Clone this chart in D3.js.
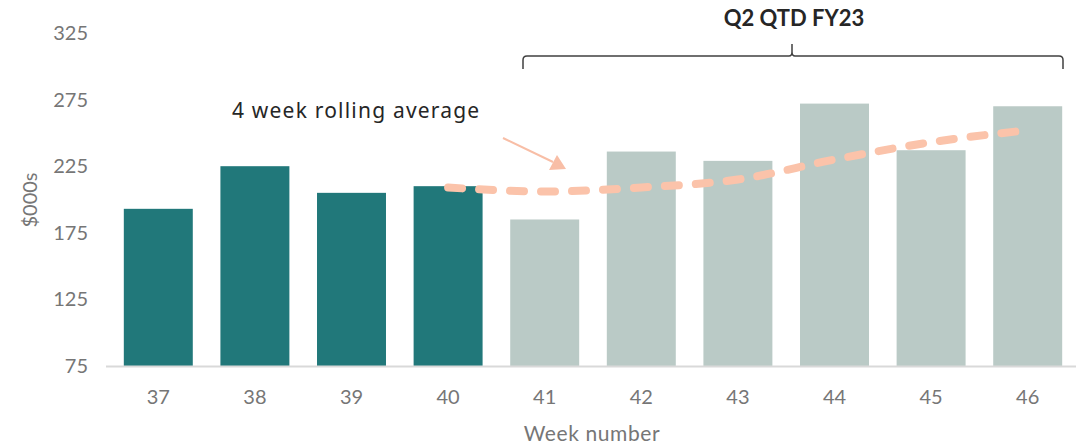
<!DOCTYPE html>
<html><head><meta charset="utf-8">
<script src="https://cdn.jsdelivr.net/npm/d3@7"></script>
<style>html,body{margin:0;padding:0;background:#fff;}svg{display:block;}</style>
</head><body>
<svg id="chart" width="1081" height="446"></svg>
<script>
const weeks = ["37","38","39","40","41","42","43","44","45","46"];
const sales = [193, 225, 205, 210, 185, 236, 229, 272, 237, 270];
const quarterFlag = [0,0,0,0,1,1,1,1,1,1];
const avgWeeks = ["40","41","42","43","44","45","46"];
const rollingAvg = [209, 206, 209, 215, 230, 243, 252];
const yTicks = [75, 125, 175, 225, 275, 325];

const svg = d3.select("#chart");
const x = d3.scaleBand().domain(weeks).range([110, 1076]).paddingInner(0.286).paddingOuter(0.143);
const y = d3.scaleLinear().domain([75, 325]).range([366, 33]);

const tickFont = "Lato, 'Open Sans', sans-serif";
const grey = "#767676";

// y tick labels
svg.append("g").selectAll("text").data(yTicks).join("text")
  .attr("x", 88).attr("y", d => y(d)).attr("dy", "0.35em")
  .attr("text-anchor", "end").attr("font-family", tickFont).attr("font-size", 20)
  .attr("fill", grey).text(d => d);

// bars
svg.append("g").selectAll("rect").data(weeks).join("rect")
  .attr("x", d => x(d)).attr("width", x.bandwidth())
  .attr("y", (d,i) => y(sales[i])).attr("height", (d,i) => y(75) - y(sales[i]))
  .attr("fill", (d,i) => quarterFlag[i] ? "#bacac6" : "#21787a");

// baseline
svg.append("line").attr("x1", 106).attr("x2", 1076).attr("y1", y(75)+0.5).attr("y2", y(75)+0.5)
  .attr("stroke", "#d9d9d9").attr("stroke-width", 2);

// x tick labels
svg.append("g").selectAll("text").data(weeks).join("text")
  .attr("x", d => x(d) + x.bandwidth()/2).attr("y", 397).attr("dy", "0.35em")
  .attr("text-anchor", "middle").attr("font-family", tickFont).attr("font-size", 20)
  .attr("fill", grey).text(d => d);

// axis titles
svg.append("text").attr("x", 592).attr("y", 434).attr("dy", "0.35em").attr("text-anchor", "middle")
  .attr("font-family", tickFont).attr("font-size", 21).attr("letter-spacing", 0.6)
  .attr("fill", grey).text("Week number");
svg.append("text").attr("transform", "translate(30,200) rotate(-90)").attr("dy", "0.35em")
  .attr("text-anchor", "middle").attr("font-family", tickFont).attr("font-size", 20)
  .attr("fill", grey).text("$000s");

// rolling average line
const line = d3.line()
  .x((d,i) => x(avgWeeks[i]) + x.bandwidth()/2)
  .y(d => y(d))
  .curve(d3.curveMonotoneX);
svg.append("path").datum(rollingAvg).attr("d", line)
  .attr("fill", "none").attr("stroke", "#fbc3aa").attr("stroke-width", 8)
  .attr("stroke-linecap", "round").attr("stroke-dasharray", "14,17");

// annotation
svg.append("text").attr("x", 232).attr("y", 118).attr("font-family", "'Noto Sans', Lato, sans-serif")
  .attr("font-size", 21).attr("letter-spacing", 1.2).attr("fill", "#262626").text("4 week rolling average");
svg.append("line").attr("x1", 503).attr("y1", 138).attr("x2", 553).attr("y2", 162)
  .attr("stroke", "#f8bea6").attr("stroke-width", 2);
svg.append("path").attr("d", "M566,169 L549,170 L557,155 Z").attr("fill", "#f8bea6");

// bracket
const bx1 = 523, bx2 = 1063, bmid = 792;
const by = 56;
svg.append("path")
  .attr("d", `M${bx1},69 L${bx1},60 Q${bx1},${by} ${bx1+4},${by} L${bmid-3},${by} Q${bmid},${by} ${bmid},${by-4} L${bmid},44 M${bmid},${by-4} Q${bmid},${by} ${bmid+3},${by} L${bx2-4},${by} Q${bx2},${by} ${bx2},60 L${bx2},69`)
  .attr("fill", "none").attr("stroke", "#404040").attr("stroke-width", 1.5);
svg.append("text").attr("x", 794).attr("y", 18).attr("dy", "0.35em").attr("text-anchor", "middle")
  .attr("font-family", tickFont).attr("font-weight", "bold").attr("font-size", 22)
  .attr("fill", "#262626").text("Q2 QTD FY23");
</script>
</body></html>
